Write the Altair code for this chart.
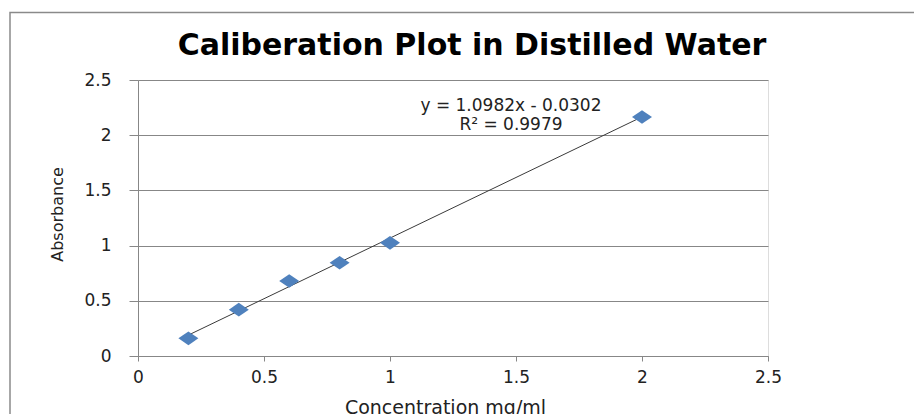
import altair as alt
import pandas as pd

# data
conc = [0.2, 0.4, 0.6, 0.8, 1.0, 2.0]
absorb = [0.16, 0.42, 0.68, 0.845, 1.025, 2.165]

slope = 1.0982
intercept = -0.0302
r2 = 0.9979
trend_x = [min(conc), max(conc)]
trend_y = [slope * v + intercept for v in trend_x]

eq_line1 = f"y = {slope}x - {abs(intercept)}"
eq_line2 = f"R\u00b2 = {r2}"
chart_title = "Caliberation Plot in Distilled Water"

axis_ticks = [0, 0.5, 1, 1.5, 2, 2.5]

FONT = "DejaVu Sans"
GRAY = "#878787"

pts = pd.DataFrame({"c": conc, "a": absorb})
trend = pd.DataFrame({"c": trend_x, "a": trend_y})
one = pd.DataFrame({"k": [0]})

xscale = alt.Scale(domain=[0, 2.5], nice=False)
yscale = alt.Scale(domain=[0, 2.5], nice=False)

xaxis = alt.Axis(values=axis_ticks, format="~g", grid=False, tickSize=5, labelPadding=8,
                 labelFontSize=17, labelFont=FONT, labelColor="#222",
                 domainColor=GRAY, tickColor=GRAY, title="Concentration mg/ml",
                 titleFont=FONT, titleFontSize=19, titleFontWeight="normal",
                 titleColor="#222", titleX=307, titleY=42, titleBaseline="top",
                 titleAlign="center", labelFlush=False)
yaxis = alt.Axis(values=axis_ticks, format="~g", grid=True, gridColor=GRAY, tickSize=9,
                 labelPadding=18, labelFontSize=17, labelFont=FONT,
                 labelColor="#222", domainColor=GRAY, tickColor=GRAY,
                 title="Absorbance", titleFont=FONT, titleFontSize=16,
                 titleFontWeight="normal", titleColor="#222", titleX=-81,
                 titleY=134, titleBaseline="middle", titleAngle=270,
                 titleAlign="center", labelFlush=False)

frame = alt.Chart(one).mark_rect(
    fillOpacity=0, stroke="#8a8a8a", strokeWidth=1.5, clip=False
).encode(x=alt.value(-128), x2=alt.value(900), y=alt.value(-67.5), y2=alt.value(600))

title = alt.Chart(one).mark_text(
    text=chart_title, font=FONT, fontSize=30, fontWeight="bold", color="#000",
    align="center", baseline="alphabetic"
).encode(x=alt.value(334), y=alt.value(-25))

line = alt.Chart(trend).mark_line(color="#3a3a3a", strokeWidth=1).encode(
    x=alt.X("c:Q", scale=xscale, axis=xaxis),
    y=alt.Y("a:Q", scale=yscale, axis=yaxis),
)

points = alt.Chart(pts).mark_point(
    shape="M-1,0L0,-0.68L1,0L0,0.68Z", filled=True, size=400,
    color="#4F81BD", opacity=1
).encode(x=alt.X("c:Q", scale=xscale), y=alt.Y("a:Q", scale=yscale))

txt_style = dict(font=FONT, fontSize=17, color="#222", align="center", baseline="middle")
eq1 = alt.Chart(one).mark_text(text=eq_line1, **txt_style).encode(
    x=alt.datum(1.48, scale=xscale), y=alt.datum(2.262, scale=yscale))
eq2 = alt.Chart(one).mark_text(text=eq_line2, **txt_style).encode(
    x=alt.datum(1.48, scale=xscale), y=alt.datum(2.09, scale=yscale))

chart = alt.layer(frame, title, line, points, eq1, eq2).properties(
    width=630, height=276,
    padding={"left": 130, "top": 72, "right": 146, "bottom": 66},
    autosize=alt.AutoSizeParams(type="none"),
).configure_view(stroke=None).configure(background="white")

chart.save("out.html", embed_options={"renderer": "svg", "actions": False})
